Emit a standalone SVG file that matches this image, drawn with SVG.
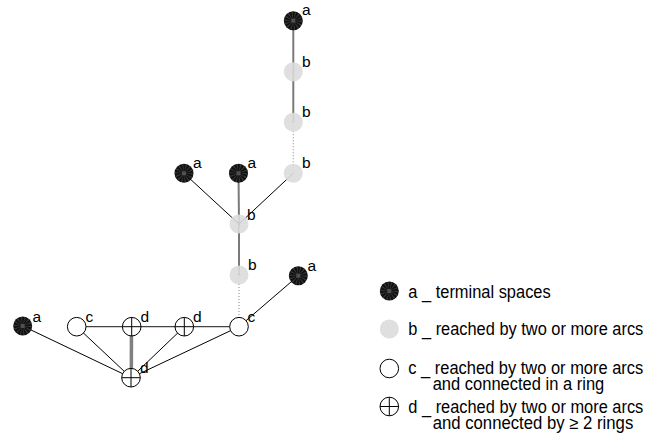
<svg xmlns="http://www.w3.org/2000/svg" width="663" height="441" viewBox="0 0 663 441">
<style>
.lbl{font-family:"Liberation Sans",Arial,sans-serif;font-size:15.5px;fill:#000}
.leg{font-family:"Liberation Sans",Arial,sans-serif;font-size:17.5px;fill:#000}
.blk{stroke:#000;stroke-width:1;fill:none}
.gry{stroke:#7a7a7a;stroke-width:2;fill:none}
.thk{stroke:#808080;stroke-width:3.5;fill:none}
.ring{stroke:#444;stroke-width:1.3;fill:none}
.dot{stroke:#999;stroke-width:1.2;stroke-dasharray:1 2;fill:none}
</style>
<defs>
<g id="na">
<circle r="9.5" fill="#111"/>
<circle r="5.5" fill="none" stroke="#3a3a3a" stroke-width="7" stroke-dasharray="0.8 1.6"/>
<rect x="-2" y="-2" width="4" height="4" fill="#505050"/>
</g>
<g id="nb">
<circle r="9.5" fill="#d9d9d9" fill-opacity="0.88"/>
<circle r="5.5" fill="none" stroke="#e4e4e4" stroke-width="7" stroke-dasharray="0.8 1.6" stroke-opacity="0.7"/>
</g>
<g id="nc">
<circle r="9.3" fill="#fff" stroke="#000" stroke-width="1"/>
</g>
<g id="nd">
<circle r="9.3" fill="#fff" stroke="#000" stroke-width="1"/>
<path d="M-9.3 0H9.3M0 -9.3V9.3" stroke="#000" stroke-width="1"/>
</g>
</defs>
<rect width="663" height="441" fill="#fff"/>
<g id="connectors">
<line class="gry" x1="293.3" y1="20.7" x2="293.3" y2="71.7"/>
<line class="gry" x1="293.3" y1="71.7" x2="293.3" y2="122.3"/>
<line class="dot" x1="293.3" y1="122.3" x2="293.3" y2="173.3"/>
<line class="blk" x1="293.3" y1="173.3" x2="239" y2="224"/>
<line class="blk" x1="184" y1="173.3" x2="239" y2="224"/>
<line class="gry" x1="238.5" y1="173.3" x2="239" y2="224"/>
<line class="gry" x1="239" y1="224" x2="239" y2="275"/>
<line class="dot" x1="239" y1="275" x2="239" y2="326.7"/>
<line class="blk" x1="239" y1="326.7" x2="298.3" y2="275.7"/>
<line class="ring" x1="76.7" y1="326.7" x2="239" y2="326.7"/>
<line class="blk" x1="22.7" y1="326" x2="131" y2="377.7"/>
<line class="blk" x1="76.7" y1="326.7" x2="131" y2="377.7"/>
<line class="thk" x1="131.5" y1="326.7" x2="131.3" y2="377.7"/>
<line class="blk" x1="184.3" y1="326.7" x2="131" y2="377.7"/>
<line class="blk" x1="239" y1="326.7" x2="131" y2="377.7"/>
</g>
<g id="n1"><use href="#na" x="293.3" y="20.7"/><text class="lbl" x="302" y="15">a</text></g>
<g id="n2"><use href="#nb" x="293.3" y="71.7"/><text class="lbl" x="302" y="66.5">b</text></g>
<g id="n3"><use href="#nb" x="293.3" y="122.3"/><text class="lbl" x="302" y="117.3">b</text></g>
<g id="n4"><use href="#nb" x="293.3" y="173.3"/><text class="lbl" x="302" y="168.3">b</text></g>
<g id="n5"><use href="#na" x="184" y="173.3"/><text class="lbl" x="193" y="168.3">a</text></g>
<g id="n6"><use href="#na" x="238.5" y="173.3"/><text class="lbl" x="247.5" y="168.3">a</text></g>
<g id="n7"><use href="#nb" x="239" y="224"/><text class="lbl" x="247" y="219.5">b</text></g>
<g id="n8"><use href="#nb" x="239" y="275"/><text class="lbl" x="248" y="270">b</text></g>
<g id="n9"><use href="#na" x="298.3" y="275.7"/><text class="lbl" x="307.5" y="271">a</text></g>
<g id="n10"><use href="#nc" x="239" y="326.7"/><text class="lbl" x="247.5" y="321.7">c</text></g>
<g id="n11"><use href="#nd" x="184.3" y="326.7"/><text class="lbl" x="193" y="321.7">d</text></g>
<g id="n12"><use href="#nd" x="131.7" y="326.7"/><text class="lbl" x="140.5" y="321.7">d</text></g>
<g id="n13"><use href="#nc" x="76.7" y="326.7"/><text class="lbl" x="85.5" y="321.7">c</text></g>
<g id="n14"><use href="#na" x="22.7" y="326"/><text class="lbl" x="32.5" y="321.5">a</text></g>
<g id="n15"><use href="#nd" x="131" y="377.7"/><text class="lbl" x="140" y="373">d</text></g>
<g id="legend">
<use href="#na" x="389.3" y="291"/>
<text class="leg" x="408.3" y="297.5" textLength="142.4" lengthAdjust="spacingAndGlyphs">a _ terminal spaces</text>
<use href="#nb" x="389.3" y="329"/>
<text class="leg" x="408.3" y="335" textLength="235" lengthAdjust="spacingAndGlyphs">b _ reached by two or more arcs</text>
<use href="#nc" x="389.3" y="368.5"/>
<text class="leg" x="408.3" y="374" textLength="235" lengthAdjust="spacingAndGlyphs">c _ reached by two or more arcs</text>
<text class="leg" x="432.7" y="389.5" textLength="171.6" lengthAdjust="spacingAndGlyphs">and connected in a ring</text>
<use href="#nd" x="389.3" y="406.5"/>
<text class="leg" x="408.3" y="413" textLength="235" lengthAdjust="spacingAndGlyphs">d _ reached by two or more arcs</text>
<text class="leg" x="432.7" y="428.5" textLength="200.6" lengthAdjust="spacingAndGlyphs">and connected by ≥ 2 rings</text>
</g>
</svg>
